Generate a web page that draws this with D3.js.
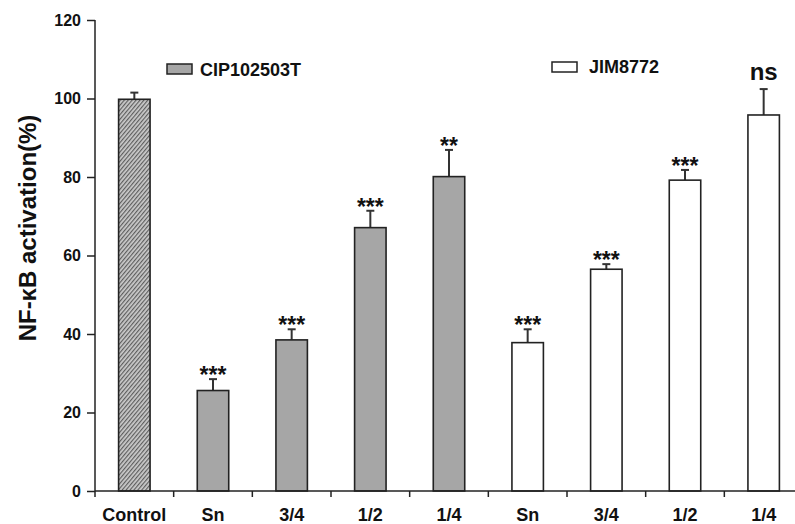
<!DOCTYPE html>
<html>
<head>
<meta charset="utf-8">
<script src="https://cdn.jsdelivr.net/npm/d3@7"></script>
<style>
  html, body { margin: 0; padding: 0; background: #fff; }
  svg { display: block; font-family: Arial, "Liberation Sans", sans-serif; font-weight: bold; }
</style>
</head>
<body>
<svg id="chart" width="795" height="524"></svg>
<script>
// ---- data ----
const categories = ["Control", "Sn", "3/4", "1/2", "1/4", "Sn", "3/4", "1/2", "1/4"];
const groups     = ["control", "CIP", "CIP", "CIP", "CIP", "JIM", "JIM", "JIM", "JIM"];
const means      = [99.8, 25.6, 38.5, 67.1, 80.1, 37.8, 56.5, 79.2, 95.8];
const errors     = [1.7, 2.9, 2.7, 4.3, 6.8, 3.4, 1.3, 2.6, 6.6];
const signif     = ["", "***", "***", "***", "**", "***", "***", "***", "ns"];
const yTicks     = [0, 20, 40, 60, 80, 100, 120];
const legendItems = ["CIP102503T", "JIM8772"];

const svg = d3.select("#chart");
const ids = categories.map((c, i) => i);

const x = d3.scaleBand().domain(ids).range([95, 803]).paddingInner(0.6).paddingOuter(0.3);
const y = d3.scaleLinear().domain([0, 120]).range([491, 20]);

// hatch pattern for control
const defs = svg.append("defs");
const pat = defs.append("pattern").attr("id", "hatch").attr("patternUnits", "userSpaceOnUse")
  .attr("width", 3).attr("height", 3).attr("patternTransform", "rotate(40)");
pat.append("rect").attr("width", 3).attr("height", 3).attr("fill", "#cccccc");
pat.append("rect").attr("width", 1.2).attr("height", 3).attr("fill", "#5e5e5e");

const fillFor = g => g === "control" ? "url(#hatch)" : (g === "CIP" ? "#a6a6a6" : "#ffffff");

// error bars
const eb = svg.append("g").attr("stroke", "#333").attr("stroke-width", 2);
ids.forEach(i => {
  const cx = x(i) + x.bandwidth() / 2;
  eb.append("line").attr("x1", cx).attr("x2", cx).attr("y1", y(means[i])).attr("y2", y(means[i] + errors[i]));
  eb.append("line").attr("x1", cx - 4).attr("x2", cx + 4).attr("y1", y(means[i] + errors[i])).attr("y2", y(means[i] + errors[i]));
});

// bars
svg.append("g").selectAll("rect").data(ids).join("rect")
  .attr("x", i => x(i)).attr("width", x.bandwidth())
  .attr("y", i => y(means[i])).attr("height", i => y(0) - y(means[i]))
  .attr("fill", i => fillFor(groups[i]))
  .attr("stroke", "#222").attr("stroke-width", 1.6);

// significance labels
svg.append("g").selectAll("text").data(ids.filter(i => signif[i])).join("text")
  .attr("x", i => x(i) + x.bandwidth() / 2)
  .attr("y", i => signif[i] === "ns" ? y(means[i] + errors[i]) - 9.5 : y(means[i] + errors[i]) + 4)
  .attr("text-anchor", "middle")
  .attr("font-size", i => signif[i] === "ns" ? 24 : 23)
  .attr("fill", "#111")
  .text(i => signif[i]);

// y axis
const yAxis = svg.append("g").attr("transform", "translate(95,0)")
  .call(d3.axisLeft(y).tickValues(yTicks).tickSize(8).tickPadding(6).tickFormat(d3.format("d")));
yAxis.select(".domain").attr("stroke", "#222").attr("stroke-width", 1.5).attr("d", `M0,${y(120)}V${y(0)}`);
yAxis.selectAll(".tick line").attr("stroke", "#222").attr("stroke-width", 1.5);
yAxis.selectAll(".tick text").attr("font-size", 16).attr("font-weight", "bold").attr("fill", "#111")
  .attr("font-family", "Arial, 'Liberation Sans', sans-serif");

// x axis baseline
svg.append("line").attr("x1", 95).attr("x2", 795).attr("y1", y(0)).attr("y2", y(0))
  .attr("stroke", "#222").attr("stroke-width", 1.5);
// boundary ticks
const step = x.step();
const bounds = d3.range(categories.length + 1).map(k => x.range()[0] + k * step).filter(v => v <= 795);
svg.append("g").selectAll("line").data(bounds).join("line")
  .attr("x1", d => d).attr("x2", d => d).attr("y1", y(0)).attr("y2", y(0) + 6)
  .attr("stroke", "#222").attr("stroke-width", 1.5);
// x labels
svg.append("g").selectAll("text").data(ids).join("text")
  .attr("x", i => x(i) + x.bandwidth() / 2).attr("y", 521)
  .attr("text-anchor", "middle").attr("font-size", 18).attr("fill", "#111")
  .text(i => categories[i]);

// y label
svg.append("text").attr("transform", "translate(36,228) rotate(-90)")
  .attr("text-anchor", "middle").attr("font-size", 24).attr("fill", "#111")
  .text("NF-κB activation(%)");

// legend
const legendPos = [{x: 167, y: 64, tx: 200, ty: 76}, {x: 552, y: 62, tx: 589, ty: 73}];
const legendFill = ["#a6a6a6", "#ffffff"];
legendItems.forEach((name, k) => {
  const p = legendPos[k];
  svg.append("rect").attr("x", p.x).attr("y", p.y).attr("width", 25).attr("height", 10)
    .attr("fill", legendFill[k]).attr("stroke", "#222").attr("stroke-width", 1.5);
  svg.append("text").attr("x", p.tx).attr("y", p.ty).attr("font-size", 18).attr("fill", "#111").text(name);
});
</script>
</body>
</html>
